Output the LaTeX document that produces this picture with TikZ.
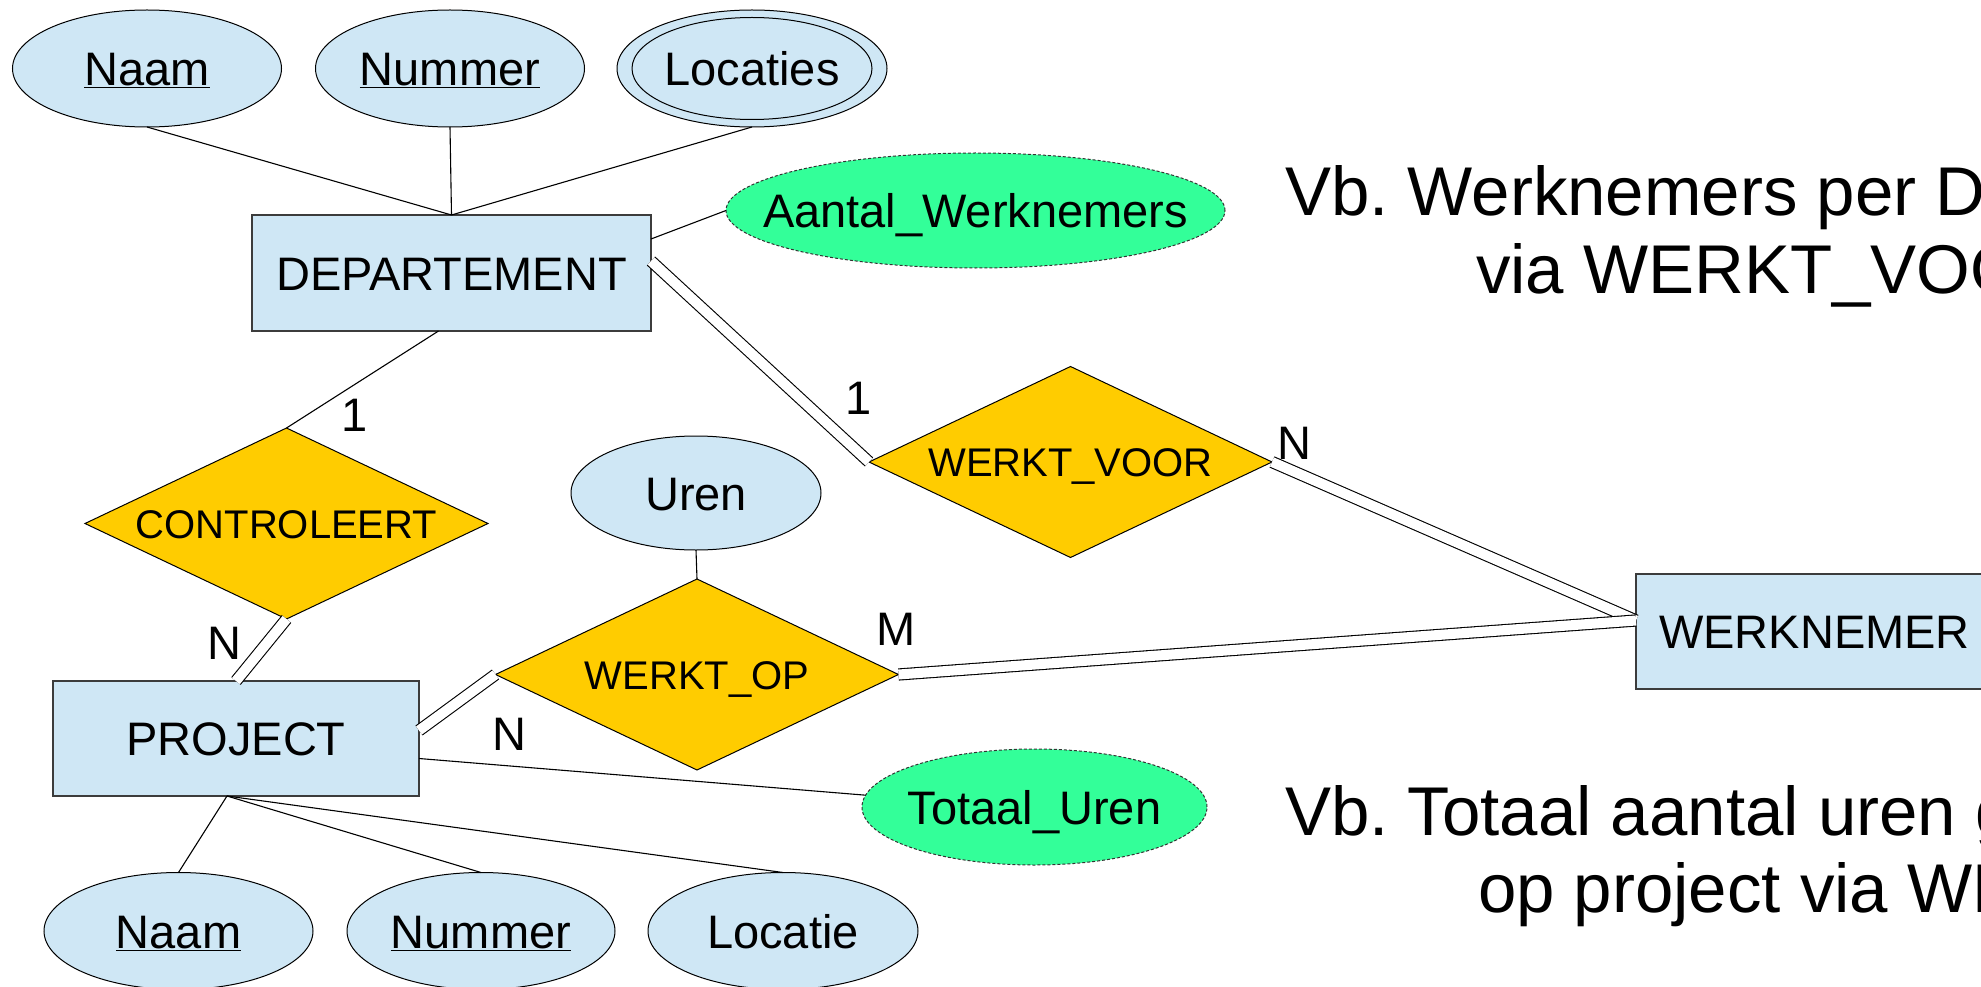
\documentclass[tikz,border=0pt]{standalone}
\usepackage{fontspec}
\setmainfont{Liberation Sans}
\usetikzlibrary{shapes.geometric,calc}
\definecolor{entblue}{RGB}{207,231,245}
\definecolor{relgold}{RGB}{255,204,0}
\definecolor{dergreen}{RGB}{51,255,153}
\definecolor{edgegray}{RGB}{60,60,60}
\newcommand{\zerowd}[1]{\makebox[0pt]{#1}}
\frenchspacing
\begin{document}
\begin{tikzpicture}[x=1pt,y=-1pt,
  every node/.style={inner sep=0pt, outer sep=0pt},
  bigfont/.style={font=\fontsize{47}{56}\selectfont, text height=34pt, text depth=0pt},
  lbl/.style={bigfont},
  entity/.style={rectangle, draw=edgegray, line width=1.2pt, fill=entblue, bigfont},
  attr/.style={ellipse, draw=black, line width=1pt, fill=entblue, bigfont, minimum width=269pt, minimum height=117pt},
  derived/.style={ellipse, draw=black!80, line width=1pt, dash pattern=on 3pt off 2pt, fill=dergreen, bigfont},
  rel/.style={diamond, draw=black, line width=1pt, fill=relgold, font=\fontsize{40}{48}\selectfont, text height=29pt, text depth=0pt, minimum width=403pt, minimum height=191pt},
  link/.style={line width=1.1pt},
  dlink/.style={double, double distance=10pt, line width=1.1pt},
  note/.style={font=\fontsize{69}{80}\selectfont, anchor=base west}
]
\useasboundingbox (0,0) rectangle (1981,987);
\clip (0,0) rectangle (1981,987);

% entities
\node[entity, minimum width=399pt, minimum height=116pt] (dept) at (451.5,273) {DEPARTEMENT};
\node[entity, minimum width=366pt, minimum height=115pt] (proj) at (236,738.5) {PROJECT};
\node[entity, minimum width=357pt, minimum height=115pt] (wk) at (1814.5,631.5) {WERKNEMER};

% relationships
\node[rel] (ctrl) at (286.5,523.5) {\zerowd{CONTROLEERT}};
\node[rel] (wv) at (1070.5,462) {\zerowd{WERKT\_VOOR}};
\node[rel] (wo) at (697,674.5) {\zerowd{WERKT\_OP}};

% attributes
\node[attr] (naam1) at (147,68.5) {\zerowd{\underline{Naam}}};
\node[attr] (nummer1) at (450,68.5) {\zerowd{\underline{Nummer}}};
\node[attr, minimum width=270pt] (locs) at (752,68.5) {\zerowd{Locaties}};
\draw[line width=1pt] (locs.center) ellipse [x radius=120pt, y radius=51pt];
\node[attr, minimum width=250pt, minimum height=114pt] (uren) at (696,493) {\zerowd{Uren}};
\node[attr] (naam2) at (178.5,931) {\zerowd{\underline{Naam}}};
\node[attr, minimum width=268pt] (nummer2) at (481,931) {\zerowd{\underline{Nummer}}};
\node[attr, minimum width=270pt] (loc2) at (783,931) {\zerowd{Locatie}};

% derived attributes
\node[derived, minimum width=499pt, minimum height=115pt] (aantal) at (975.5,210.5) {\zerowd{Aantal\_Werknemers}};
\node[derived, minimum width=345pt, minimum height=116pt] (totaal) at (1034.5,807) {\zerowd{Totaal\_Uren}};

% attribute links
\draw[link] (naam1.south) -- (dept.north);
\draw[link] (nummer1.south) -- (dept.north);
\draw[link] (locs.south) -- (dept.north);
\draw[link] ($(dept.north east)+(0,24)$) -- (aantal.west);
\draw[link] (uren.south) -- (wo.north);
\coordinate (pb) at ($(proj.south)+(-9,0)$);
\draw[link] (pb) -- (naam2.north);
\draw[link] (pb) -- (nummer2.north);
\draw[link] (pb) -- (loc2.north);
\draw[link] ($(proj.east)+(0,20)$) -- (totaal.176);

% relationship links
\draw[link] ($(dept.south)+(-13,0)$) -- (ctrl.north);
\draw[dlink] (ctrl.south) -- (proj.north);
\draw[dlink] ($(dept.north east)+(0,46)$) -- (wv.west);
\draw[dlink] (wv.east) -- ($(wk.west)+(0,-11)$);
\draw[dlink] (wo.east) -- ($(wk.west)+(0,-11)$);
\draw[dlink] (wo.west) -- ($(proj.east)+(0,-8)$);

% cardinalities
\node[lbl] (c1) at (355,414) {1};
\node[lbl] (c2) at (224,642) {N};
\node[lbl] (c3) at (859,397) {1};
\node[lbl] (c4) at (1294,442) {N};
\node[lbl] (c5) at (896,628) {M};
\node[lbl] (c6) at (509,733) {N};

% notes
\node[note] (n1a) at (1285,215) {Vb. Werknemers per Departement};
\node[note] (n1b) at (1476,293) {via WERKT\_VOOR};
\node[note] (n2a) at (1285,835) {Vb. Totaal aantal uren gewerkt};
\node[note] (n2b) at (1478,912) {op project via WERKT\_OP};
\end{tikzpicture}
\end{document}
